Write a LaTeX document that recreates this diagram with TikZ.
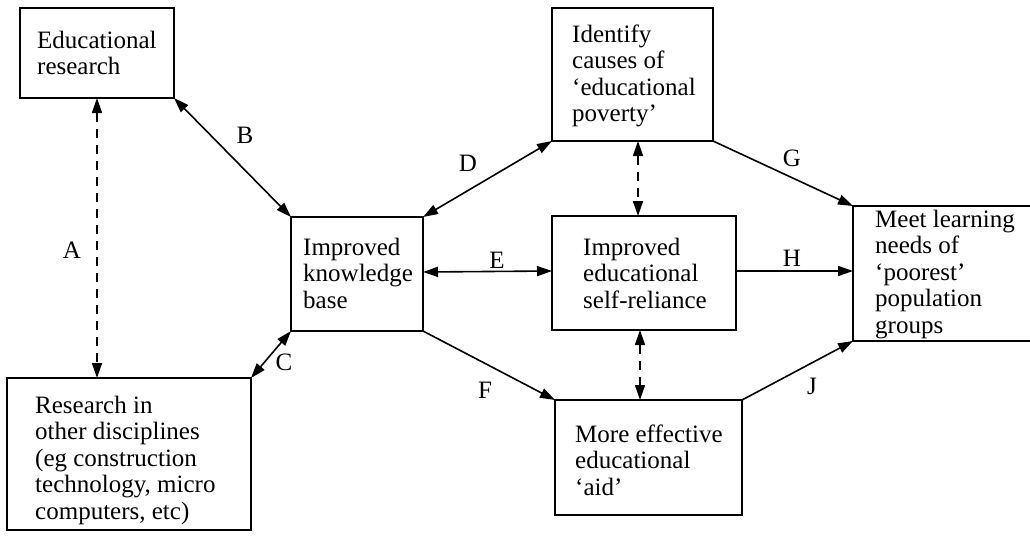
\documentclass[tikz,border=0pt]{standalone}
\usepackage{fontspec}
\setmainfont{Liberation Serif}
\usetikzlibrary{arrows.meta}

\newcommand\boxtext[1]{\parbox[t]{230pt}{\raggedright #1}}

\begin{document}
\begin{tikzpicture}[x=1pt,y=-1pt,
  box/.style={draw,line width=2.6pt,rectangle,inner sep=0pt,outer sep=0pt,anchor=north west},
  txt/.style={anchor=base west,inner sep=0pt,font=\fontsize{25}{26.5}\selectfont},
  lab/.style={inner sep=0pt,font=\fontsize{25}{26.5}\selectfont},
  conn/.style={line width=1.6pt},
  tip/.style={-{Triangle[length=15pt,width=10pt]}},
  tips/.style={{Triangle[length=15pt,width=10pt]}-{Triangle[length=15pt,width=10pt]}},
  dashconn/.style={line width=1.6pt,dash pattern=on 9pt off 7pt}
]
\useasboundingbox (0,0) rectangle (1030,536);
\clip (0,0) rectangle (1030,536);

% boxes
\node[box,minimum width=154pt,minimum height=90pt]  (er) at (20,8) {};
\node[box,minimum width=244pt,minimum height=152pt] (ro) at (7,378) {};
\node[box,minimum width=132pt,minimum height=114pt] (kb) at (291,217) {};
\node[box,minimum width=161pt,minimum height=133pt] (ic) at (552,8) {};
\node[box,minimum width=184pt,minimum height=114pt] (sr) at (552,216) {};
\node[box,minimum width=187pt,minimum height=115pt] (me) at (555,400) {};
\node[box,minimum width=200pt,minimum height=135pt] (ml) at (853,206) {};

% box texts
\node[txt] (ter) at (37,48)  {\boxtext{Educational\\research}};
\node[txt] (tro) at (35,413) {\boxtext{Research in\\other disciplines\\(eg construction\\technology, micro\\computers, etc)}};
\node[txt] (tkb) at (303,255) {\boxtext{Improved\\knowledge\\base}};
\node[txt] (tic) at (572,42)  {\boxtext{Identify\\causes of\\`educational\\poverty'}};
\node[txt] (tsr) at (583,255) {\boxtext{Improved\\educational\\self-reliance}};
\node[txt] (tme) at (575,442) {\boxtext{More effective\\educational\\`aid'}};
\node[txt] (tml) at (875,227) {\boxtext{Meet learning\\needs of\\`poorest'\\population\\groups}};

% connectors
\draw[dashconn,tips] (er.south) -- (er.south |- ro.north);
\draw[conn,tips] (er.south east) -- (kb.north west);
\draw[conn,tips] (ro.north east) -- (kb.south west);
\draw[conn,tips] (kb.north east) -- (ic.south west);
\draw[conn,tips] ([yshift=2pt]kb.east) -- ([yshift=2pt]sr.west);
\draw[conn,tip]  (kb.south east) -- (me.north west);
\draw[dashconn,tips] ([xshift=5.5pt]ic.south) -- ([xshift=5.5pt]ic.south |- sr.north);
\draw[dashconn,tips] ([xshift=-4pt]sr.south) -- ([xshift=-4pt]sr.south |- me.north);
\draw[conn,tip]  (ic.south east) -- (ml.north west);
\draw[conn,tip]  ([yshift=2pt]sr.east) -- ([yshift=2pt]sr.east -| ml.west);
\draw[conn,tip]  (me.north east) -- (ml.south west);

% connector labels
\node[lab] (lA) at (72,250)  {A};
\node[lab] (lB) at (245,135) {B};
\node[lab] (lC) at (284,362) {C};
\node[lab] (lD) at (468,163) {D};
\node[lab] (lE) at (497,260) {E};
\node[lab] (lF) at (485,390) {F};
\node[lab] (lG) at (792,158) {G};
\node[lab] (lH) at (792,258) {H};
\node[lab] (lJ) at (812,386) {J};
\end{tikzpicture}
\end{document}
